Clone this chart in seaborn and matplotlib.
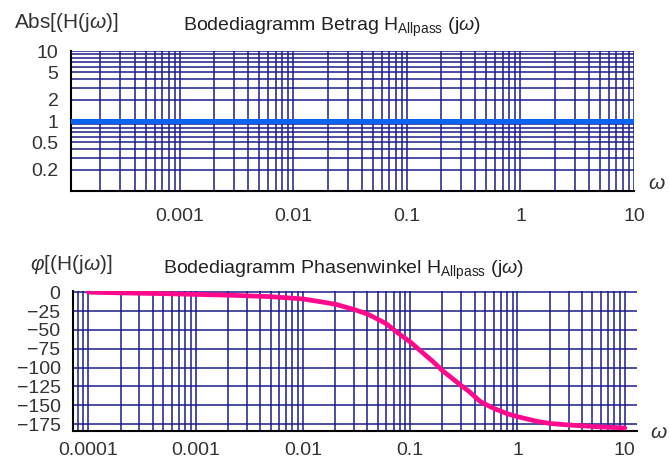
import matplotlib
matplotlib.use("Agg")
import matplotlib.pyplot as plt
import matplotlib.ticker as mticker
import seaborn as sns

# data
mag_omega = [1e-4, 1e-3, 1e-2, 1e-1, 1, 10]
mag_value = [1, 1, 1, 1, 1, 1]

phase_omega = [1e-4, 2e-4, 5e-4, 1e-3, 2e-3, 5e-3, 0.01, 0.015, 0.02, 0.03,
               0.04, 0.05, 0.06, 0.08, 0.1, 0.13, 0.163, 0.2, 0.25, 0.3,
               0.35, 0.45, 0.6, 0.8, 1, 1.5, 2, 3, 5, 7, 10]
phase_deg = [0, -1, -2, -3, -4, -6, -9, -13, -16, -23,
             -29, -36, -42, -56, -66, -80, -92, -104, -115, -124,
             -131, -145, -154, -161, -165, -171, -174, -176, -178, -179, -180]

top_xticks = [0.001, 0.01, 0.1, 1, 10]
top_xlabels = ["0.001", "0.01", "0.1", "1", "10"]
top_yticks = [0.2, 0.5, 1, 2, 5, 10]
top_ylabels = ["0.2", "0.5", "1", "2", "5", "10"]
bot_xticks = [1e-4, 1e-3, 1e-2, 0.1, 1, 10]
bot_xlabels = ["0.0001", "0.001", "0.01", "0.1", "1", "10"]
bot_yticks = [0, -25, -50, -75, -100, -125, -150, -175]
bot_ylabels = ["0", "\u221225", "\u221250", "\u221275", "\u2212100", "\u2212125", "\u2212150", "\u2212175"]

sns.set_style("white")
plt.rcParams['font.family'] = ['Liberation Sans', 'DejaVu Sans']
plt.rcParams['mathtext.fontset'] = 'custom'
plt.rcParams['mathtext.rm'] = 'Liberation Sans'
plt.rcParams['mathtext.it'] = 'Liberation Sans:italic'

W, H = 669, 461
grid_col = "#1c1c8c"
txt_col = "#333333"

fig = plt.figure(figsize=(W / 100, H / 100), dpi=100)
ax1 = fig.add_axes([71 / W, 1 - 191 / H, (634 - 71) / W, (191 - 51) / H])
ax2 = fig.add_axes([73 / W, 1 - 431 / H, (637 - 73) / W, (431 - 291) / H])

# top: magnitude
sns.lineplot(x=mag_omega, y=mag_value, ax=ax1, color="#0a64f0", linewidth=3.6, zorder=5)
ax1.set_xscale("log")
ax1.set_yscale("log")
ax1.set_xlim(1.1e-4, 10)
ax1.set_ylim(0.1, 10)
ax1.set_xticks(top_xticks)
ax1.set_xticklabels(top_xlabels)
ax1.set_yticks(top_yticks)
ax1.set_yticklabels(top_ylabels)
ax1.xaxis.set_minor_locator(mticker.LogLocator(base=10, subs=range(2, 10), numticks=20))
ax1.yaxis.set_minor_locator(mticker.LogLocator(base=10, subs=range(2, 10), numticks=20))
ax1.xaxis.set_minor_formatter(mticker.NullFormatter())
ax1.yaxis.set_minor_formatter(mticker.NullFormatter())
ax1.grid(which="both", color=grid_col, linewidth=1.1)
ax1.tick_params(which="both", length=0)
ax1.tick_params(axis="x", pad=12, labelsize=14, labelcolor=txt_col)
ax1.tick_params(axis="y", pad=9, labelsize=14, labelcolor=txt_col)

# bottom: phase
sns.lineplot(x=phase_omega, y=phase_deg, ax=ax2, color="#ff0a8c", linewidth=3.4, zorder=5)
ax2.set_xscale("log")
ax2.set_xlim(7.2e-5, 13)
ax2.set_ylim(-184, 1.5)
ax2.set_xticks(bot_xticks)
ax2.set_xticklabels(bot_xlabels)
ax2.set_yticks(bot_yticks)
ax2.set_yticklabels(bot_ylabels)
ax2.xaxis.set_minor_locator(mticker.LogLocator(base=10, subs=range(2, 10), numticks=20))
ax2.xaxis.set_minor_formatter(mticker.NullFormatter())
ax2.yaxis.set_minor_locator(mticker.MultipleLocator(5))
ax2.grid(which="major", color=grid_col, linewidth=1.1)
ax2.grid(which="minor", axis="x", color=grid_col, linewidth=1.1)
ax2.tick_params(axis="x", which="both", length=0, pad=8, labelsize=14, labelcolor=txt_col)
ax2.tick_params(axis="y", which="major", direction="in", length=5, width=1, pad=9,
                labelsize=14, labelcolor=txt_col)
ax2.tick_params(axis="y", which="minor", direction="in", length=3, width=1)

for ax in (ax1, ax2):
    sns.despine(ax=ax)
    for s in ("left", "bottom"):
        ax.spines[s].set_color("black")
        ax.spines[s].set_linewidth(1.5)

# labels
fig.text(14 / W, 1 - 22 / H, r"Abs[(H(j$\omega$)]", fontsize=15, color=txt_col, va="center")
fig.text(183 / W, 1 - 27 / H, r"Bodediagramm Betrag H$_{\mathrm{Allpass}}$ (j$\omega$)",
         fontsize=14, color="#222222", va="center")
fig.text(657 / W, 1 - 183 / H, r"$\omega$", fontsize=15, color=txt_col, ha="center", va="center")

fig.text(30 / W, 1 - 265 / H, r"$\varphi$[(H(j$\omega$)]", fontsize=15, color=txt_col, va="center")
fig.text(163 / W, 1 - 270 / H, r"Bodediagramm Phasenwinkel H$_{\mathrm{Allpass}}$ (j$\omega$)",
         fontsize=14, color="#222222", va="center")
fig.text(659 / W, 1 - 432 / H, r"$\omega$", fontsize=15, color=txt_col, ha="center", va="center")

plt.savefig("out.png", dpi=100)
